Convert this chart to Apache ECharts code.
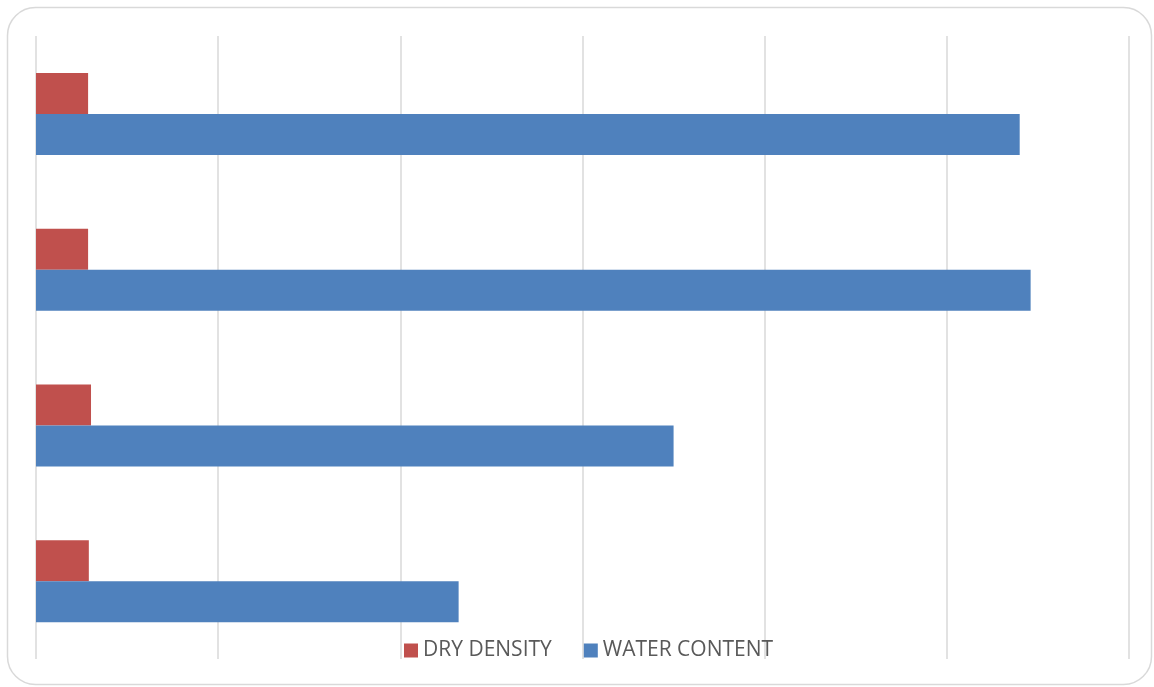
<!DOCTYPE html>
<html>
<head>
<meta charset="utf-8">
<script src="https://cdn.jsdelivr.net/npm/echarts@6/dist/echarts.min.js"></script>
<style>
  html, body { margin: 0; padding: 0; background: #ffffff; }
  #chart { width: 1154px; height: 687px; }
</style>
</head>
<body>
<div id="chart"></div>
<script>
// Samples, bottom to top
const categories = ['S1', 'S2', 'S3', 'S4'];
const dryDensity = [1.45, 1.51, 1.43, 1.43];
const waterContent = [11.6, 17.5, 27.3, 27.0];
const seriesNames = ['DRY DENSITY', 'WATER CONTENT'];

const chart = echarts.init(document.getElementById('chart'));
chart.setOption({
  animation: false,
  backgroundColor: '#ffffff',
  graphic: [{
    type: 'rect',
    shape: { x: 7.5, y: 7.5, width: 1144, height: 677, r: 28 },
    style: { fill: 'none', stroke: '#d9d9d9', lineWidth: 1.5 },
    z: -1
  }],
  grid: { left: 36, right: 25, top: 36, bottom: 28, containLabel: false },
  legend: {
    bottom: 26,
    left: 404,
    padding: 0,
    itemWidth: 14,
    itemHeight: 14,
    itemGap: 32,
    icon: 'rect',
    textStyle: { color: '#595959', fontSize: 21, fontFamily: 'Open Sans' },
    data: seriesNames
  },
  xAxis: {
    type: 'value',
    min: 0,
    max: 30,
    interval: 5,
    axisLabel: { show: false },
    axisTick: { show: false },
    axisLine: { show: false },
    splitLine: { lineStyle: { color: '#d9d9d9', width: 1.5 } }
  },
  yAxis: {
    type: 'category',
    data: categories,
    axisLabel: { show: false },
    axisTick: { show: false },
    axisLine: { show: false }
  },
  series: [
    {
      name: seriesNames[0],
      type: 'bar',
      data: dryDensity,
      barWidth: 41,
      barGap: '0%',
      itemStyle: { color: '#c0504d' }
    },
    {
      name: seriesNames[1],
      type: 'bar',
      data: waterContent,
      barWidth: 41,
      barGap: '0%',
      itemStyle: { color: '#4f81bd' }
    }
  ]
});
</script>
</body>
</html>
